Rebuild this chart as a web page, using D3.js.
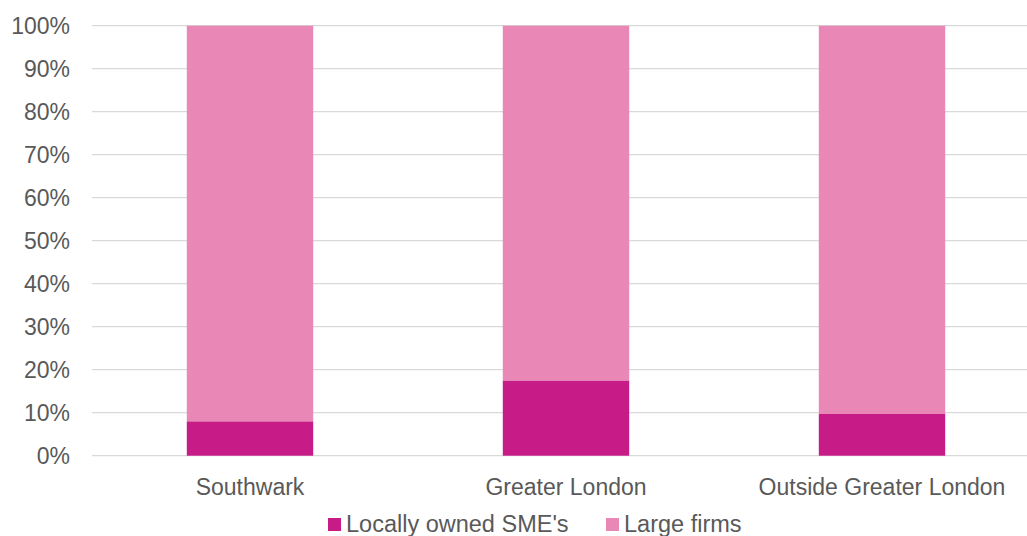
<!DOCTYPE html>
<html><head><meta charset="utf-8">
<script src="https://cdn.jsdelivr.net/npm/d3@7"></script>
<style>body{margin:0;background:#fff}svg{display:block}text{font-family:"Liberation Sans",Arial,sans-serif;fill:#595959}</style>
</head><body>
<svg id="c" width="1027" height="536"></svg>
<script>
const categories = ["Southwark", "Greater London", "Outside Greater London"];
const seriesNames = ["Locally owned SME's", "Large firms"];
const smeValues = [8.0, 17.5, 9.7];
const largeValues = [92.0, 82.5, 90.3];
const yTicks = [0,10,20,30,40,50,60,70,80,90,100];
const colors = ["#C71B87", "#E988B7"];

const svg = d3.select("#c");
const m = {left: 92, right: 1040, top: 25.7, bottom: 455.7};
const x = d3.scaleBand().domain(categories).range([m.left, m.right]).paddingInner(0.6).paddingOuter(0.3);
const y = d3.scaleLinear().domain([0,100]).range([m.bottom, m.top]);

// gridlines
svg.append("g").selectAll("line").data(yTicks).join("line")
  .attr("x1", m.left).attr("x2", m.right)
  .attr("y1", d=>y(d)).attr("y2", d=>y(d))
  .attr("stroke", "#D9D9D9").attr("stroke-width", 1.3);

const data = categories.map((c,i)=>({cat:c, sme:smeValues[i], large:largeValues[i]}));
const stack = d3.stack().keys(["sme","large"])(data);
svg.append("g").selectAll("g").data(stack).join("g")
  .attr("fill", (d,i)=>colors[i])
  .selectAll("rect").data(d=>d).join("rect")
  .attr("x", d=>x(d.data.cat)).attr("width", x.bandwidth())
  .attr("y", d=>y(d[1])).attr("height", d=>y(d[0])-y(d[1]));

// y axis labels
const yAxis = d3.axisLeft(y).tickValues(yTicks).tickFormat(d=>d+"%").tickSize(0).tickPadding(0);
const ya = svg.append("g").attr("transform", "translate(70,0)").call(yAxis);
ya.select(".domain").remove();
ya.selectAll("text").style("font-size","23px").attr("fill","#595959").attr("dy","0.35em");

// x axis labels
const xAxis = d3.axisBottom(x).tickSize(0).tickPadding(0);
const xa = svg.append("g").attr("transform", `translate(0,${m.bottom})`).call(xAxis);
xa.select(".domain").remove();
xa.selectAll("text").style("font-size","23px").attr("fill","#595959").attr("dy","0").attr("y", 39);

// legend
const legX = [328, 606];
const lg = svg.append("g");
seriesNames.forEach((n,i)=>{
  lg.append("rect").attr("x", legX[i]).attr("y", 518).attr("width", 13).attr("height", 13).attr("fill", colors[i]);
  lg.append("text").attr("x", legX[i]+18).attr("y", 532).style("font-size","23.5px").text(n);
});
</script>
</body></html>
